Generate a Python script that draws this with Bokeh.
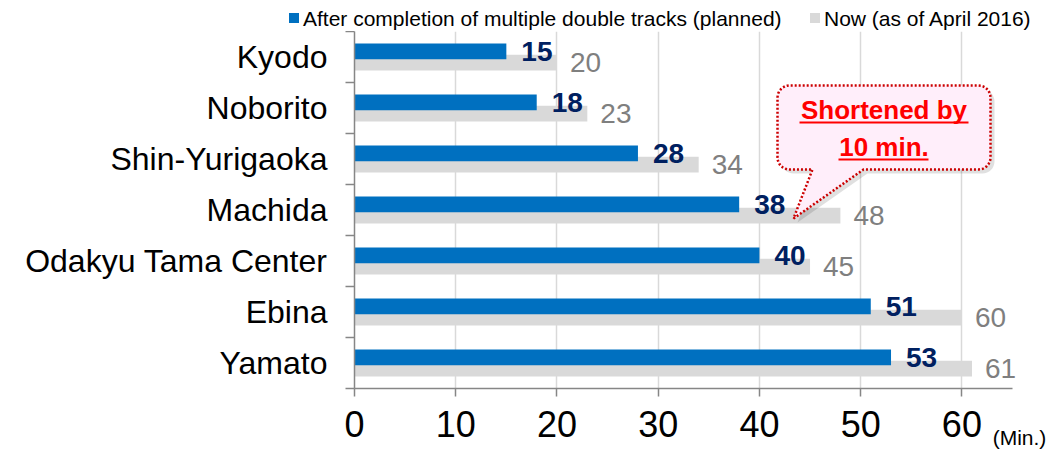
import math
from bokeh.plotting import figure
from bokeh.layouts import column
from bokeh.models import (Range1d, FixedTicker, ColumnDataSource, LabelSet, Label,
                          LinearAxis, Div)
from bokeh.core.properties import value
from bokeh.embed import file_html
from bokeh.resources import INLINE

# ---------------- data ----------------
stations = ["Kyodo", "Noborito", "Shin-Yurigaoka", "Machida",
            "Odakyu Tama Center", "Ebina", "Yamato"]
planned = [15, 18, 28, 38, 40, 51, 53]
now = [20, 23, 34, 48, 45, 60, 61]
x_ticks = [0, 10, 20, 30, 40, 50, 60]
series_names = ["After completion of multiple double tracks (planned)",
                "Now (as of April 2016)"]
callout_lines = ["Shortened by", "10 min."]
unit_label = "(Min.)"

# ---------------- style ----------------
FONT = "Liberation Sans"
BLUE = "#0070C0"
GRAY = "#D9D9D9"
NAVY = "#002060"
GRAY_TXT = "#7F7F7F"
RED = "#FF0000"
AXIS = "#868686"

W = 1050
LEG_H = 31                 # height of the legend strip
MAIN_H = 451 - LEG_H
L, B = 354, 63             # left / bottom border of main plot
AX_END = 1012              # pixel where the value axis ends (value 65)
AX_MAX = 65
n = len(stations)
SX = (AX_END - L) / AX_MAX
SY = (MAIN_H - B) / n
XR = (W - L) / SX          # full data width of frame (frame runs to right edge)


def px2x(px):
    return (px - L) / SX


def py2y(py):              # page pixel -> data y
    return n - (py - LEG_H) / SY


OFF = 0.11
BH = 0.31
centers = [n - 0.5 - i for i in range(n)]

src = ColumnDataSource(dict(
    y_plan=[c + OFF for c in centers],
    y_now=[c - OFF for c in centers],
    planned=planned,
    now=now,
    plan_txt=[str(v) for v in planned],
    now_txt=[str(v) for v in now],
))

# ---------------- legend strip (HTML) ----------------
leg_items = [(289, 303, BLUE, series_names[0]), (810, 824, GRAY, series_names[1])]
spans = ""
for sq_x, tx_x, col, name in leg_items:
    spans += ('<span style="position:absolute;left:%dpx;top:13px;width:10px;'
              'height:10px;background:%s;"></span>' % (sq_x, col))
    spans += ('<span style="position:absolute;left:%dpx;top:8px;line-height:21px;">'
              '%s</span>' % (tx_x, name))
legend_html = ('<div style="position:relative;width:%dpx;height:%dpx;'
               'font-family:\'Liberation Sans\';font-size:21px;color:#000;'
               'white-space:nowrap;">%s</div>' % (W, LEG_H, spans))
lg = Div(text=legend_html, width=W, height=LEG_H, margin=(0, 0, 0, 0))

# ---------------- main plot ----------------
p = figure(width=W, height=MAIN_H, x_range=Range1d(0, XR), y_range=Range1d(0, n),
           output_backend="svg", toolbar_location=None,
           min_border_left=L, min_border_right=0, min_border_top=0,
           min_border_bottom=B, outline_line_color=None)

p.ygrid.visible = False
p.xgrid.ticker = FixedTicker(ticks=x_ticks[1:])
p.xgrid.grid_line_color = GRAY
p.xgrid.grid_line_width = 1.5

p.hbar(y="y_now", left=0, right="now", height=BH, source=src,
       fill_color=GRAY, line_color=None)
p.hbar(y="y_plan", left=0, right="planned", height=BH, source=src,
       fill_color=BLUE, line_color=None)

# x axis (numbers)
xa = p.xaxis[0]
xa.ticker = FixedTicker(ticks=x_ticks)
xa.bounds = (0, AX_MAX)
xa.axis_line_color = AXIS
xa.axis_line_width = 1.5
xa.major_tick_line_color = AXIS
xa.major_tick_line_width = 1.5
xa.major_tick_out = 8
xa.major_tick_in = 0
xa.minor_tick_line_color = None
xa.minor_tick_out = 0
xa.minor_tick_in = 0
xa.major_label_standoff = 14
xa.major_label_text_font = FONT
xa.major_label_text_font_size = "36px"
xa.major_label_text_color = "black"

# unit axis: only the "(Min.)" label, tucked up beside the "60"
unit_pos = round(px2x(1019), 2)
ua = LinearAxis(ticker=FixedTicker(ticks=[unit_pos]),
                major_label_overrides={unit_pos: unit_label},
                axis_line_color=None, major_tick_line_color=None,
                minor_tick_line_color=None, major_tick_out=0, major_tick_in=0,
                minor_tick_out=0, minor_tick_in=0, major_label_standoff=-14,
                major_label_text_font=FONT, major_label_text_font_size="21px",
                major_label_text_color="black")
p.add_layout(ua, "below")

# y axis: labels at centres, ticks at category boundaries
ya = p.yaxis[0]
ya.ticker = FixedTicker(ticks=centers, minor_ticks=list(range(n + 1)))
ya.major_label_overrides = {c: s for c, s in zip(centers, stations)}
ya.axis_line_color = AXIS
ya.axis_line_width = 1.5
ya.major_tick_line_color = None
ya.major_tick_out = 0
ya.major_tick_in = 0
ya.minor_tick_line_color = AXIS
ya.minor_tick_line_width = 1.5
ya.minor_tick_out = 9
ya.minor_tick_in = 0
ya.major_label_standoff = 18
ya.major_label_text_font = FONT
ya.major_label_text_font_size = "32px"
ya.major_label_text_color = "black"

# value labels
p.add_layout(LabelSet(x="planned", y="y_plan", text="plan_txt", source=src,
                      x_offset=15, text_baseline="middle", text_align="left",
                      text_font=value(FONT), text_font_style="bold",
                      text_font_size="28px", text_color=NAVY))
p.add_layout(LabelSet(x="now", y="y_now", text="now_txt", source=src,
                      x_offset=13, text_baseline="middle", text_align="left",
                      text_font=value(FONT), text_font_size="28px",
                      text_color=GRAY_TXT))

# callout (rounded box with pointer), pixel geometry converted to data units
bx0, bx1, by0, by1, rad = 777, 990, 85, 169, 12
base_l, base_r, tip = 812, 863, (793, 218)


def arc(cx, cy, a0, a1, steps=8):
    pts = []
    for k in range(steps + 1):
        a = math.radians(a0 + (a1 - a0) * k / steps)
        pts.append((cx + rad * math.cos(a), cy + rad * math.sin(a)))
    return pts


pts = []
pts += arc(bx0 + rad, by0 + rad, 180, 270)
pts += arc(bx1 - rad, by0 + rad, 270, 360)
pts += arc(bx1 - rad, by1 - rad, 0, 90)
pts += [(base_r, by1), tip, (base_l, by1)]
pts += arc(bx0 + rad, by1 - rad, 90, 180)

sh = 4
p.patch([px2x(a + sh) for a, b in pts], [py2y(b + sh) for a, b in pts],
        fill_color="black", fill_alpha=0.12, line_color=None)
p.patch([px2x(a) for a, b in pts], [py2y(b) for a, b in pts],
        fill_color="#FFEEFA", line_color="#CC0000", line_width=2.5,
        line_dash="2 2")

cx = (bx0 + bx1) / 2
for line, mid_py, ul in [(callout_lines[0], 109, (799, 968, 122)),
                         (callout_lines[1], 146, (838, 928, 159))]:
    p.add_layout(Label(x=px2x(cx), y=py2y(mid_py), text=line, text_align="center",
                       text_baseline="middle", text_font=FONT,
                       text_font_style="bold", text_font_size="26px",
                       text_color=RED))
    p.segment(x0=[px2x(ul[0])], y0=[py2y(ul[2])], x1=[px2x(ul[1])], y1=[py2y(ul[2])],
              line_color=RED, line_width=2)

layout = column(lg, p, spacing=0)
open("out.html", "w").write(file_html(layout, INLINE))
